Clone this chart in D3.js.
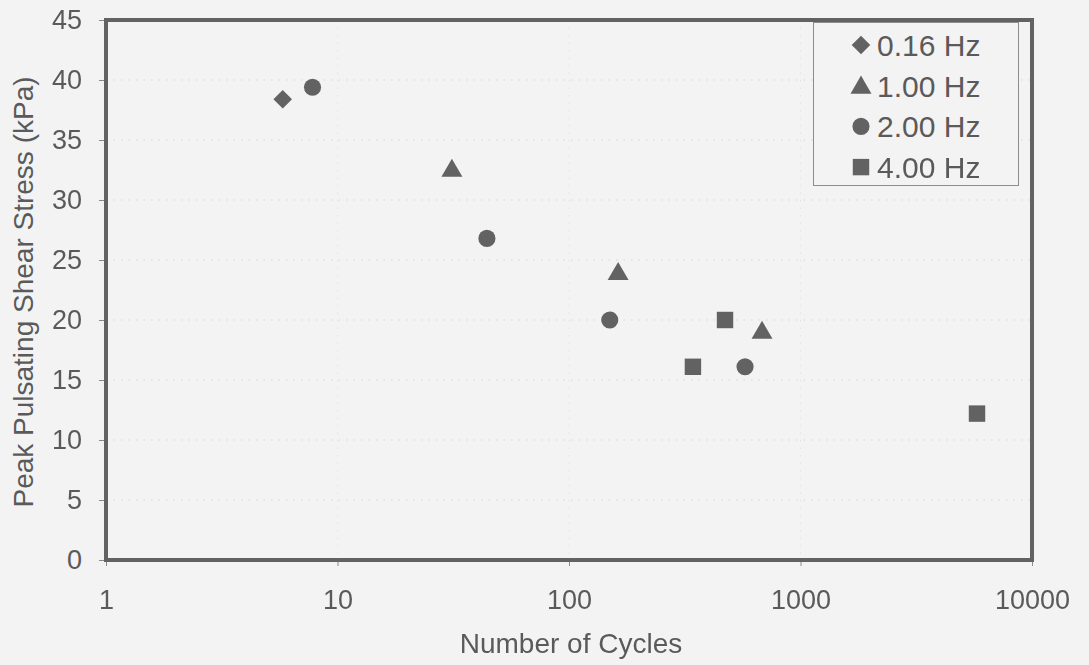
<!DOCTYPE html>
<html>
<head>
<meta charset="utf-8">
<script src="https://cdn.jsdelivr.net/npm/d3@7/dist/d3.min.js"></script>
<style>
  html, body { margin: 0; padding: 0; background: #f3f3f3; }
  svg { display: block; }
  text { font-family: "Liberation Sans", Arial, sans-serif; fill: #5a5a5a; }
</style>
</head>
<body>
<svg id="chart" width="1089" height="665"></svg>
<script>
// Peak pulsating shear stress vs. number of cycles to failure, by loading frequency
const seriesNames = ["0.16 Hz", "1.00 Hz", "2.00 Hz", "4.00 Hz"];
const seriesShapes = ["diamond", "triangle", "circle", "square"];

const cycles016 = [5.8];
const stress016 = [38.4];

const cycles100 = [31.2, 163, 682];
const stress100 = [32.6, 24.0, 19.1];

const cycles200 = [7.8, 44.2, 150, 576];
const stress200 = [39.4, 26.8, 20.0, 16.1];

const cycles400 = [343, 472, 5787];
const stress400 = [16.1, 20.0, 12.2];

const xTickValues = [1, 10, 100, 1000, 10000];
const yTickValues = [0, 5, 10, 15, 20, 25, 30, 35, 40, 45];

const xTitle = "Number of Cycles";
const yTitle = "Peak Pulsating Shear Stress (kPa)";

const series = [
  { name: seriesNames[0], shape: seriesShapes[0], x: cycles016, y: stress016 },
  { name: seriesNames[1], shape: seriesShapes[1], x: cycles100, y: stress100 },
  { name: seriesNames[2], shape: seriesShapes[2], x: cycles200, y: stress200 },
  { name: seriesNames[3], shape: seriesShapes[3], x: cycles400, y: stress400 }
];

const svg = d3.select("#chart");
const plot = { left: 106, right: 1032, top: 20, bottom: 560 };

const x = d3.scaleLog().domain([1, 10000]).range([plot.left, plot.right]);
const y = d3.scaleLinear().domain([0, 45]).range([plot.bottom, plot.top]);

const ink = "#626262";

// faint dotted grid
const grid = svg.append("g").attr("stroke", "#cbcbcb").attr("stroke-width", 1)
  .attr("stroke-dasharray", "1.5,6").attr("opacity", 0.7);
grid.selectAll("line.h").data(yTickValues.filter(v => v > 0 && v < 45)).join("line")
  .attr("x1", plot.left).attr("x2", plot.right)
  .attr("y1", d => y(d)).attr("y2", d => y(d));
grid.selectAll("line.v").data(xTickValues.filter(v => v > 1 && v < 10000)).join("line")
  .attr("class", "v")
  .attr("y1", plot.top).attr("y2", plot.bottom)
  .attr("x1", d => x(d)).attr("x2", d => x(d))
  .attr("opacity", 0.5);

// axes
const yAxis = d3.axisLeft(y).tickValues(yTickValues).tickSize(7).tickPadding(17)
  .tickFormat(d3.format("d"));
const xAxis = d3.axisBottom(x).tickValues(xTickValues).tickSize(6).tickPadding(24)
  .tickFormat(d3.format("d"));

const gy = svg.append("g").attr("transform", `translate(${plot.left},0)`).call(yAxis);
const gx = svg.append("g").attr("transform", `translate(0,${plot.bottom})`).call(xAxis);
[gy, gx].forEach(g => {
  g.select(".domain").remove();
  g.selectAll(".tick line").attr("stroke", "#8a8a8a").attr("stroke-width", 1);
  g.selectAll(".tick text").attr("font-size", 27).attr("fill", "#5a5a5a")
    .attr("font-family", "'Liberation Sans', Arial, sans-serif");
});

// plot frame
svg.append("rect")
  .attr("x", plot.left).attr("y", plot.top)
  .attr("width", plot.right - plot.left).attr("height", plot.bottom - plot.top)
  .attr("fill", "none").attr("stroke", ink).attr("stroke-width", 4);

// markers
const markerSize = { diamond: 220, triangle: 190, circle: 230, square: 270 };
const symbolType = {
  diamond: d3.symbolDiamond2, triangle: d3.symbolTriangle,
  circle: d3.symbolCircle, square: d3.symbolSquare
};
function symbolPath(shape) {
  return d3.symbol().type(symbolType[shape]).size(markerSize[shape])();
}
const triOffset = 2;
series.forEach(s => {
  svg.append("g").selectAll("path").data(s.x.map((v, i) => [v, s.y[i]])).join("path")
    .attr("d", symbolPath(s.shape))
    .attr("transform", d => `translate(${x(d[0])},${y(d[1]) + (s.shape === "triangle" ? triOffset : 0)})`)
    .attr("fill", ink);
});

// legend
const legend = svg.append("g");
legend.append("rect")
  .attr("x", 813.5).attr("y", 22.5).attr("width", 205).attr("height", 163)
  .attr("fill", "#f3f3f3").attr("stroke", "#8c8c8c").attr("stroke-width", 1);
series.forEach((s, i) => {
  const cy = 45 + i * 40.7;
  legend.append("path").attr("d", symbolPath(s.shape))
    .attr("transform", `translate(861,${cy + (s.shape === "triangle" ? triOffset : 0)})`)
    .attr("fill", ink);
  legend.append("text").attr("x", 877).attr("y", cy + 11)
    .attr("font-size", 30).text(s.name);
});

// axis titles
svg.append("text").attr("x", 571).attr("y", 653).attr("text-anchor", "middle")
  .attr("font-size", 28).text(xTitle);
svg.append("text").attr("transform", "translate(33,292) rotate(-90)")
  .attr("text-anchor", "middle").attr("font-size", 28).text(yTitle);
</script>
</body>
</html>
